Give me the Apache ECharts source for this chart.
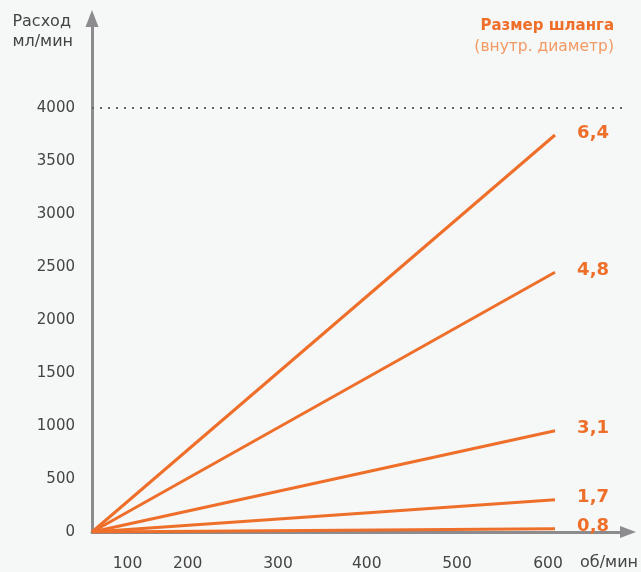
<!DOCTYPE html>
<html><head><meta charset="utf-8">
<script src="https://cdn.jsdelivr.net/npm/echarts@6/dist/echarts.min.js"></script>
<style>html,body{margin:0;padding:0;background:#f6f7f7}#c{width:641px;height:572px}</style>
</head><body><div id="c"></div>
<script>
const hoseSizes = ['6,4', '4,8', '3,1', '1,7', '0,8'];
const rpmStart = 0;
const rpmEnd = 600;
const flowAtEnd = [3745, 2450, 955, 305, 30];
const flowStart = 0;
const yTickValues = [0, 500, 1000, 1500, 2000, 2500, 3000, 3500, 4000];
const xTickLabels = ['100', '200', '300', '400', '500', '600'];
const refLevel = 4000;

const ORANGE = '#ee6f2a';
const FONT = 'DejaVu Sans';
// label anchor positions on the rpm axis (layout, as placed in the original artwork)
const xLabelAnchors = [46, 124, 241, 356, 473, 591];

const series = hoseSizes.map((name, i) => ({
  type: 'line', name,
  data: [[rpmStart, flowStart], [rpmEnd, flowAtEnd[i]]],
  symbol: 'none', silent: true,
  lineStyle: { color: ORANGE, width: 3 },
  endLabel: { show: true, formatter: name, color: ORANGE, fontFamily: FONT, fontWeight: 'bold', fontSize: 18, align: 'right', distance: 54, offset: [0, -2] },
  markLine: i === 0 ? {
    silent: true, symbol: ['none', 'none'], label: { show: false },
    lineStyle: { color: '#666', width: 2.2, type: [2, 6] },
    data: [{ yAxis: refLevel }]
  } : undefined,
  z: 3
}));

const chart = echarts.init(document.getElementById('c'));
chart.setOption({
  backgroundColor: '#f6f7f7',
  animation: false,
  title: [
    { text: 'Расход\nмл/мин', right: 568, top: 12, padding: 0, textStyle: { fontFamily: FONT, fontWeight: 'normal', fontSize: 16, color: '#444', lineHeight: 20, align: 'right' } },
    { text: 'Размер шланга', right: 27, top: 19, padding: 0, textStyle: { fontFamily: FONT, fontWeight: 'bold', fontSize: 15, color: ORANGE } },
    { text: '(внутр. диаметр)', right: 27, top: 39, padding: 0, textStyle: { fontFamily: FONT, fontWeight: 'normal', fontSize: 15.5, color: '#f29a63' } },
    { text: 'об/мин', right: 3, top: 555, padding: 0, textStyle: { fontFamily: FONT, fontWeight: 'normal', fontSize: 16, color: '#444' } }
  ],
  grid: { left: 92, right: 13, top: 18.5, bottom: 39, containLabel: false },
  xAxis: {
    type: 'value', min: 0, max: 694.6,
    axisLine: { show: true, lineStyle: { color: '#8c8c8e', width: 3 }, symbol: ['none', 'triangle'], symbolSize: [12, 16] },
    axisTick: { show: false },
    splitLine: { show: false },
    axisLabel: {
      customValues: xLabelAnchors,
      formatter: (v) => { const k = xLabelAnchors.indexOf(v); return k >= 0 ? xTickLabels[k] : ''; },
      fontFamily: FONT, fontSize: 15.5, color: '#444', margin: 24
    }
  },
  yAxis: {
    type: 'value', min: 0, max: 4844,
    axisLine: { show: true, lineStyle: { color: '#8c8c8e', width: 3 }, symbol: ['none', 'triangle'], symbolSize: [13, 17] },
    axisTick: { show: false },
    splitLine: { show: false },
    axisLabel: { customValues: yTickValues, formatter: (v) => String(v), fontFamily: FONT, fontSize: 15, color: '#444', margin: 17 }
  },
  series
});
</script></body></html>
